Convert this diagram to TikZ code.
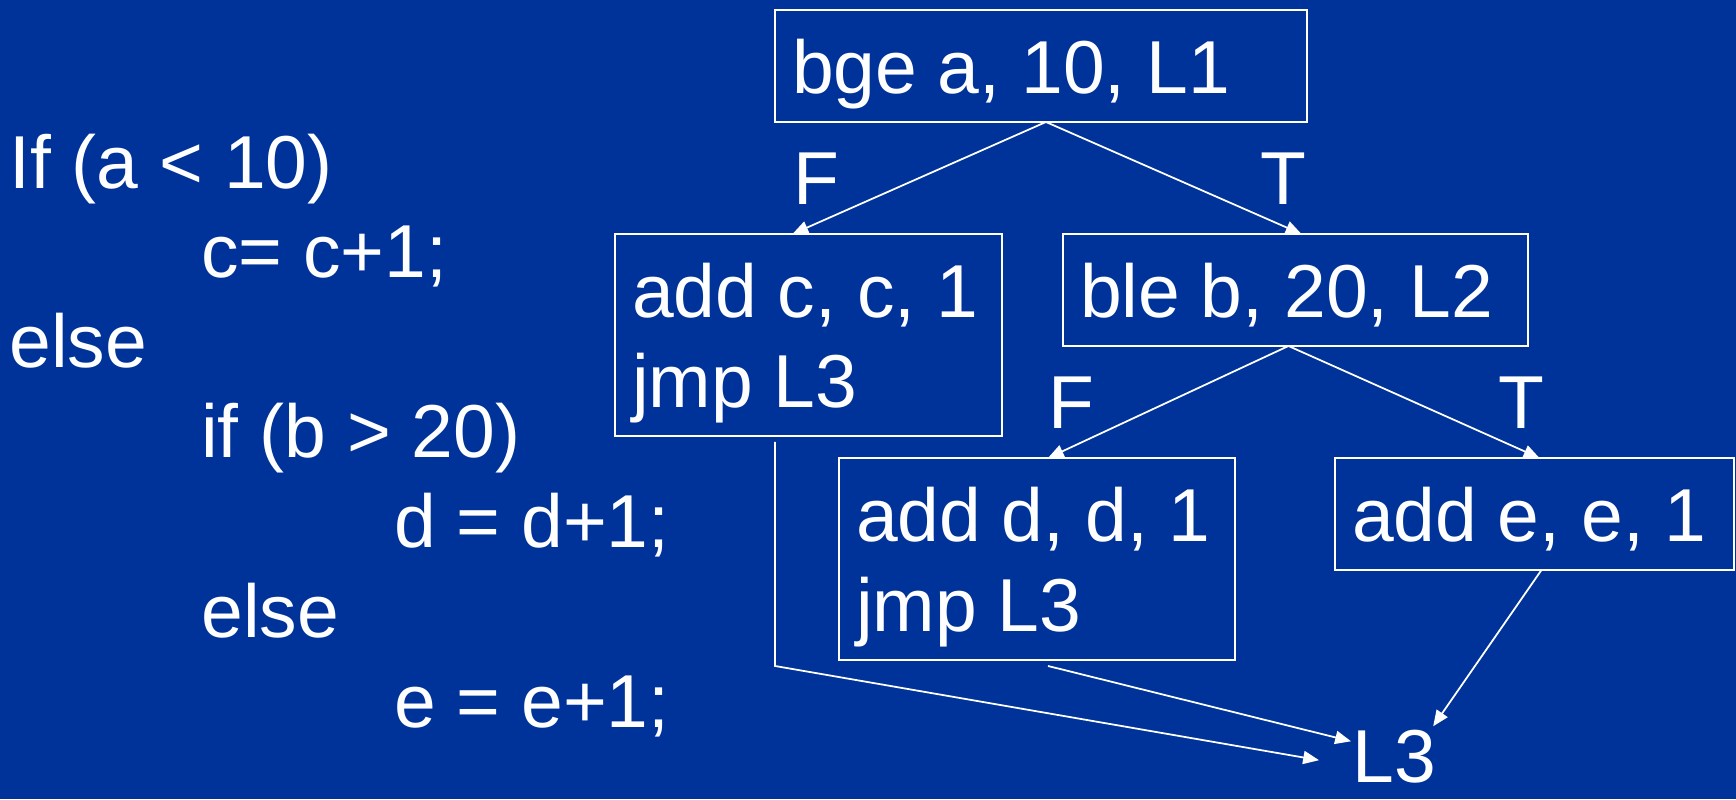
\documentclass[tikz,border=0pt]{standalone}
\usepackage{fontspec}
\setmainfont{Liberation Sans}
\usepackage{xcolor}
\usetikzlibrary{positioning,arrows.meta,calc}

\definecolor{slideblue}{RGB}{0,51,153}
\newcommand{\slidetext}{\fontsize{42.7}{51.2}\selectfont}

\begin{document}
\begin{tikzpicture}[
      x=0.02cm, y=-0.02cm,
      every node/.style={text=white, font=\slidetext},
      blk/.style={draw=white, line width=1.2pt, anchor=north west, inner xsep=0.34cm, inner ysep=0pt, outer sep=0pt, align=flush left, text height=1.68cm},
      one/.style={blk, text depth=0.56cm},
      two/.style={blk, text depth=2.36cm},
      lbl/.style={anchor=base west, inner sep=0pt},
      arr/.style={-{Triangle[length=9pt, width=7.5pt]}, white, line width=1pt},
    ]
    \fill[slideblue] (0,0) rectangle (1736,799);
    % source code on the left
    \node[lbl, text width=14cm, align=flush left] (src) at (9,188) {If (a < 10)\\
      \hspace*{3.84cm}c= c+1;\\
      else\\
      \hspace*{3.84cm}if (b > 20)\\
      \hspace*{7.7cm}d = d+1;\\
      \hspace*{3.84cm}else\\
      \hspace*{7.7cm}e = e+1;};
    % basic blocks
    \node[one, text width=9.96cm] (bge) at (775,10) {bge a, 10, L1};
    \node[two, text width=7.06cm] (addc) at (615,234) {add c, c, 1\\ jmp L3};
    \node[one, text width=8.62cm] (ble) at (1063,234) {ble b, 20, L2};
    \node[two, text width=7.24cm] (addd) at (839,458) {add d, d, 1\\ jmp L3};
    \node[one, text width=7.3cm] (adde) at (1335,458) {add e, e, 1};
    \node[lbl] (l3) at (1352,782) {L3};
    % branch labels
    \node[lbl] (f1) at (793,204) {F};
    \node[lbl] (t1) at (1260,204) {T};
    \node[lbl] (f2) at (1048,428) {F};
    \node[lbl] (t2) at (1498,428) {T};
    \draw[arr] ([shift={(5,0)}]bge.south) -- ([shift={(-16,0)}]addc.north);
    \draw[arr] ([shift={(5,0)}]bge.south) -- ([shift={(6,0)}]ble.north);
    \draw[arr] ([shift={(-7,0)}]ble.south) -- ([shift={(11,0)}]addd.north);
    \draw[arr] ([shift={(-7,0)}]ble.south) -- ([shift={(5,0)}]adde.north);
    % jumps to L3
    \coordinate (cjmp) at ([shift={(160,6)}]addc.south west);
    \coordinate (djmp) at ([shift={(11,6)}]addd.south);
    \draw[arr] (cjmp) -- (cjmp |- djmp) -- ([shift={(-33,4)}]l3.west);
    \draw[arr] (djmp) -- ([shift={(-1,12)}]l3.north west);
    \draw[arr] ([shift={(7,0)}]adde.south) -- ([shift={(-3,-3)}]l3.north east);
  \end{tikzpicture}
\end{document}
